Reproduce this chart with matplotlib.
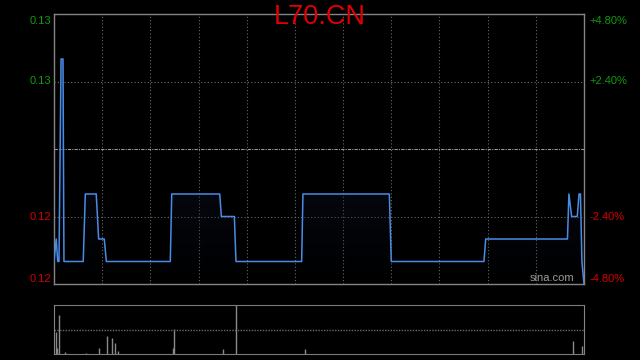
import numpy as np
import matplotlib
matplotlib.use("Agg")
import matplotlib.pyplot as plt
from matplotlib.patches import Polygon

# intraday price vertices (minutes from open, price)
minutes = [0, 1.4, 2.3, 3.1, 4.4, 5.6, 6.2, 18.2, 19.5, 26.3, 27.8, 31.3, 32.6,
           72.4, 73.3, 103.2, 104.2, 112.3, 113.3, 154.2, 155.0, 208.8, 210.0,
           267.7, 268.8, 319.7, 320.6, 322.3, 325.8, 326.9, 327.8, 328.7, 330]
prices = [0.120, 0.121, 0.120, 0.120, 0.129, 0.129, 0.120, 0.120, 0.123, 0.123,
          0.121, 0.121, 0.120, 0.120, 0.123, 0.123, 0.122, 0.122, 0.120, 0.120,
          0.123, 0.123, 0.120, 0.120, 0.121, 0.121, 0.123, 0.122, 0.122, 0.123,
          0.123, 0.120, 0.119]

# volume bars
vol_minutes = [1, 2, 3, 7, 20, 28, 33, 36, 38, 40, 74, 75, 105, 113.5, 156, 321, 323, 329]
volumes = [220, 60, 390, 23, 10, 60, 180, 160, 110, 30, 60, 250, 50, 490, 50, 5, 130, 80]

prev_close = 0.125
left_labels = ["0.13", "0.13", "0.12", "0.12"]
right_labels = ["+4.80%", "+2.40%", "-2.40%", "-4.80%"]
pct_levels = [0.048, 0.024, -0.024, -0.048]

line_col = "#4a8be6"
grid_col = "#6a6a6a"
frame_col = "#858585"
green = "#0f9a0f"
red = "#d40000"

fig = plt.figure(figsize=(6.4, 3.6), dpi=100, facecolor="black")
ax = fig.add_axes([54 / 640, 1 - 284 / 360, 530 / 640, 270 / 360], facecolor="black")
axv = fig.add_axes([54 / 640, 1 - 354 / 360, 530 / 640, 49 / 360], facecolor="black")

lo = prev_close * (1 - 0.048)
hi = prev_close * (1 + 0.048)
ax.set_xlim(0, 330)
ax.set_ylim(lo, hi)

# grid
for m in range(30, 330, 30):
    ax.axvline(m, color=grid_col, lw=0.8, ls=(0, (1, 2)), zorder=1)
for p in [0.024, -0.024]:
    ax.axhline(prev_close * (1 + p), color=grid_col, lw=0.8, ls=(0, (1, 2)), zorder=1)
ax.axhline(prev_close, color="#9a9a9a", lw=0.8, ls=(0, (3, 1, 1, 1)), zorder=1)

# gradient fill below the price line
verts = list(zip(minutes, prices)) + [(minutes[-1], lo), (minutes[0], lo)]
poly = Polygon(verts, closed=True, facecolor="none", edgecolor="none")
ax.add_patch(poly)
grad = np.zeros((100, 1, 4))
grad[:, 0, 0] = 0.05
grad[:, 0, 1] = 0.08
grad[:, 0, 2] = 0.16
grad[:, 0, 3] = np.linspace(0.0, 0.85, 100)
img = ax.imshow(grad, aspect="auto", extent=[0, 330, lo, max(prices)],
                origin="lower", zorder=2, interpolation="bilinear")
img.set_clip_path(poly)

ax.plot(minutes, prices, color=line_col, lw=1.1, zorder=3)

ax.set_xticks([])
ax.set_yticks([])
for s in ax.spines.values():
    s.set_color(frame_col)
    s.set_linewidth(1)

# y labels on both sides
for lab, rlab, p in zip(left_labels, right_labels, pct_levels):
    c = green if p > 0 else red
    y = prev_close * (1 + p)
    va = "center"
    if p == 0.048:
        va = "top"
        y = y - 0.0001
    elif p == -0.048:
        va = "bottom"
    ax.text(-0.006, y, lab, transform=ax.get_yaxis_transform(), ha="right", va=va,
            color=c, fontsize=8, family="Liberation Sans")
    ax.text(1.011, y, rlab, transform=ax.get_yaxis_transform(), ha="left", va=va,
            color=c, fontsize=8, family="Liberation Sans")

ax.text(0.982, 0.005, "sina.com", transform=ax.transAxes, ha="right", va="bottom",
        color="#9a9a9a", fontsize=8, family="Liberation Sans")

fig.text(0.5, 0.952, "L70.CN", ha="center", va="center", color="#e00000",
         fontsize=19.5, family="Liberation Sans")

# volume pane
axv.set_xlim(0, 330)
axv.set_ylim(0, max(volumes))
axv.vlines(vol_minutes, 0, volumes, color="#8a8a8a", lw=1)
axv.axhline(max(volumes) / 2, color=grid_col, lw=1, ls=(0, (1, 1)))
axv.set_xticks([])
axv.set_yticks([])
for k in ["left", "right"]:
    axv.spines[k].set_color(frame_col)
for k in ["top", "bottom"]:
    axv.spines[k].set_color("#7a7a7a")
    axv.spines[k].set_linestyle((0, (1, 1)))

fig.savefig("out.png", dpi=100, facecolor="black")
